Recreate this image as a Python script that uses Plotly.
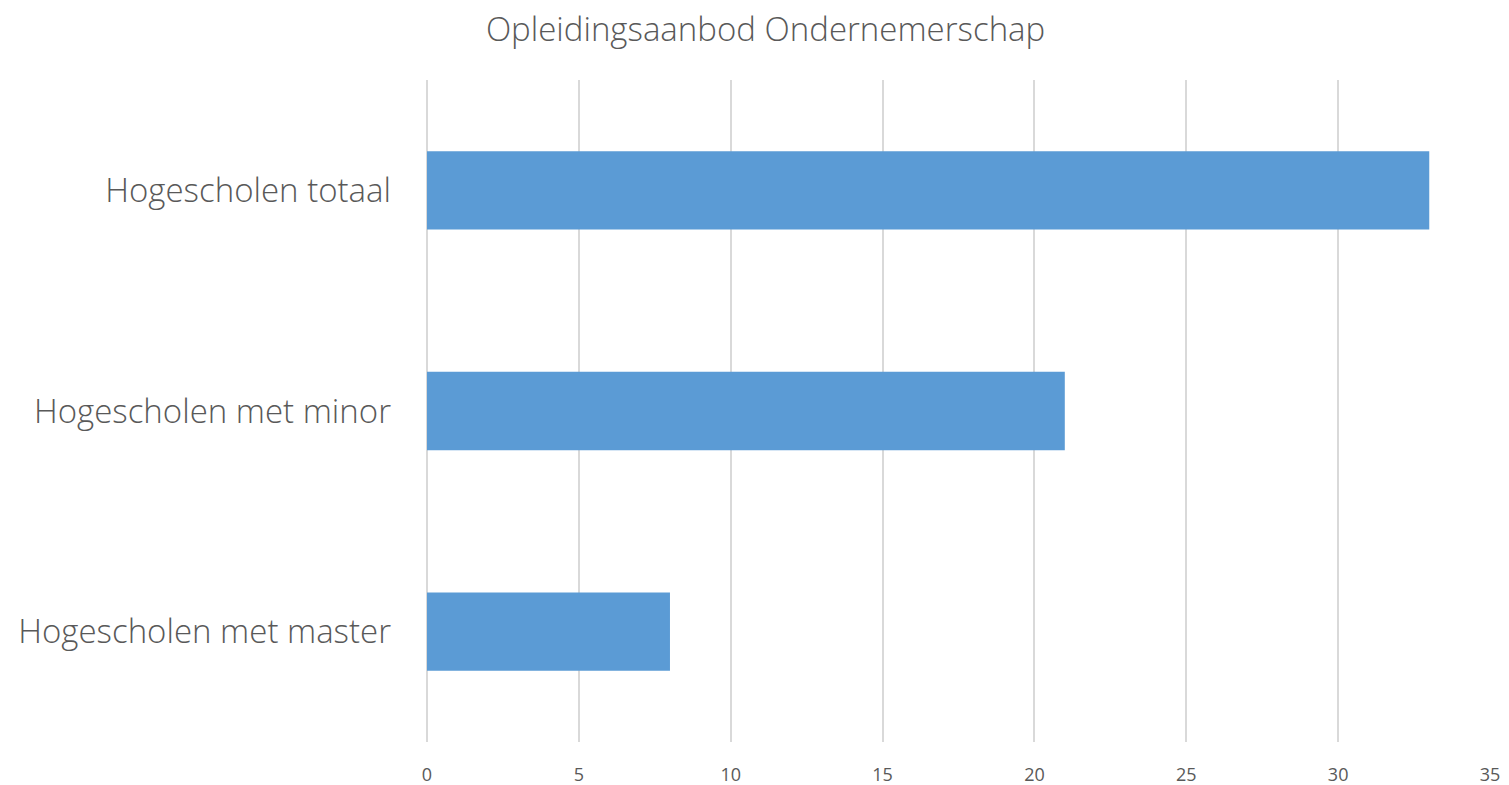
import plotly.graph_objects as go

categories = ["Hogescholen met master", "Hogescholen met minor", "Hogescholen totaal"]
values = [8, 21, 33]
x_ticks = [0, 5, 10, 15, 20, 25, 30, 35]
title_text = "Opleidingsaanbod Ondernemerschap"

FONT = "Open Sans, Segoe UI, sans-serif"
GREY = "#595959"

fig = go.Figure(go.Bar(
    x=values, y=categories, orientation="h",
    marker=dict(color="#5B9BD5", line=dict(width=0)),
))

# page body has an 8px default margin, so the figure is sized to fit the window
fig.update_layout(
    width=1501, height=777,
    paper_bgcolor="white", plot_bgcolor="white",
    margin=dict(l=419, r=19, t=72, b=43),
    bargap=0.645,
    showlegend=False,
    title=dict(text=title_text, x=0.5047, xanchor="center", y=0.973, yanchor="middle",
               font=dict(family=FONT, size=33, color=GREY, weight=300)),
    font=dict(family=FONT, color=GREY),
)
fig.update_xaxes(
    range=[0, 35], tickvals=x_ticks, showgrid=True, gridcolor="#D9D9D9", gridwidth=1.5,
    zeroline=True, zerolinecolor="#D9D9D9", zerolinewidth=1.5,
    showline=False, ticks="", ticklabelstandoff=20, automargin=False,
    tickfont=dict(family=FONT, size=18, color=GREY),
)
fig.update_yaxes(
    showgrid=False, zeroline=False, showline=False, ticks="", ticklabelstandoff=35,
    automargin=False,
    tickfont=dict(family=FONT, size=33, color=GREY, weight=300),
)

fig.write_html("out.html")
